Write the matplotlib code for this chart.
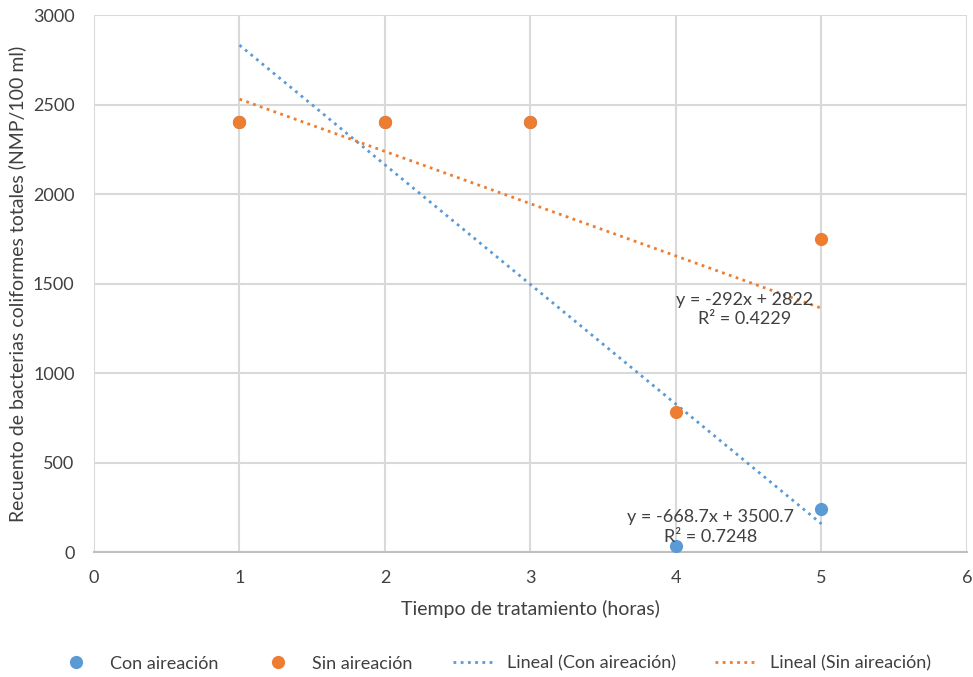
import numpy as np
import matplotlib
matplotlib.use("Agg")
import matplotlib.pyplot as plt

plt.rcParams['font.family'] = ['Lato', 'DejaVu Sans']

# datos
horas = [1, 2, 3, 4, 5]
con_aireacion = [2400, 2400, 2400, 33, 240]
sin_aireacion = [2400, 2400, 2400, 780, 1750]

color_con = '#5B9BD5'
color_sin = '#ED7D31'

fig = plt.figure(figsize=(9.73, 6.77), dpi=100)
ax = fig.add_axes([0.0966, 0.1846, 0.8972, 0.7932])

x = np.array(horas, dtype=float)
xl = np.array([1, 5], dtype=float)

# lineas de tendencia
pc = np.polyfit(x, con_aireacion, 1)
ps = np.polyfit(x, sin_aireacion, 1)
ax.plot(xl, np.polyval(pc, xl), color=color_con, lw=2, ls=(0, (1, 1.6)),
        label='Lineal (Con aireación)', zorder=2)
ax.plot(xl, np.polyval(ps, xl), color=color_sin, lw=2, ls=(0, (1, 1.6)),
        label='Lineal (Sin aireación)', zorder=2)

ax.plot(x, con_aireacion, 'o', color=color_con, ms=9.5, mec='none',
        label='Con aireación', zorder=3)
ax.plot(x, sin_aireacion, 'o', color=color_sin, ms=9.5, mec='none',
        label='Sin aireación', zorder=4)

def r2(y, p):
    y = np.array(y, dtype=float)
    yh = np.polyval(p, x)
    return 1 - ((y - yh) ** 2).sum() / ((y - y.mean()) ** 2).sum()

ax.text(4.47, 1355, 'y = %.0fx + %.0f\nR² = %.4f' % (ps[0], ps[1], r2(sin_aireacion, ps)),
        ha='center', va='center', fontsize=13, color='#404040', linespacing=1.25, zorder=5)
ax.text(4.24, 140, 'y = %.1fx + %.1f\nR² = %.4f' % (pc[0], pc[1], r2(con_aireacion, pc)),
        ha='center', va='center', fontsize=13, color='#404040', linespacing=1.25, zorder=5)

ax.set_xlim(0, 6)
ax.set_ylim(0, 3000)
ax.set_xticks(range(0, 7))
ax.set_yticks(range(0, 3001, 500))
ax.grid(True, color='#D9D9D9', lw=1.5)
ax.set_axisbelow(True)
for s in ['top', 'right', 'left']:
    ax.spines[s].set_visible(False)
ax.spines['bottom'].set_color('#BFBFBF')
ax.spines['bottom'].set_linewidth(1.5)
ax.tick_params(length=0, labelsize=13, labelcolor='#404040')
ax.tick_params(axis='x', pad=13)
ax.tick_params(axis='y', pad=14)

ax.set_xlabel('Tiempo de tratamiento (horas)', fontsize=14, color='#404040', labelpad=10)
ax.set_ylabel('Recuento de bacterias coliformes totales (NMP/100 ml)', fontsize=14,
              color='#404040', labelpad=5)

h, l = ax.get_legend_handles_labels()
order = [2, 3, 0, 1]
leg = fig.legend([h[i] for i in order], [l[i] for i in order], loc='center',
                 bbox_to_anchor=(0.507, 0.02), ncol=4, frameon=False, fontsize=13,
                 handlelength=2.2, handletextpad=0.8, columnspacing=2.2)
for t in leg.get_texts():
    t.set_color('#404040')

plt.savefig('out.png', dpi=100)
